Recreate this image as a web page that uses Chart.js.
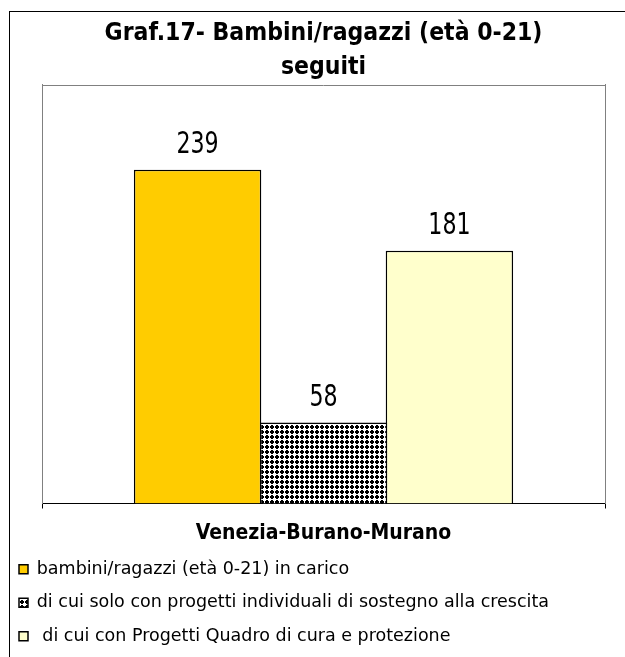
<!DOCTYPE html>
<html>
<head>
<meta charset="utf-8">
<script src="https://cdn.jsdelivr.net/npm/chart.js@4"></script>
<style>
  body { margin: 0; background: #fff; }
  canvas { display: block; }
</style>
</head>
<body>
<canvas id="grafico" width="625" height="657"></canvas>
<script>
const categorie = ['Venezia-Burano-Murano'];
const nomiSerie = [
    'bambini/ragazzi (età 0-21) in carico',
    'di cui solo con progetti individuali di sostegno alla crescita',
    ' di cui con Progetti Quadro di cura e protezione'
];
const inCarico = [239];
const soloIndividuali = [58];
const progettiQuadro = [181];
const titolo = ['Graf.17- Bambini/ragazzi (età 0-21)', 'seguiti'];

// trama a puntini per la seconda serie
function creaTrama() {
    const t = document.createElement('canvas');
    t.width = 5;
    t.height = 5;
    const c = t.getContext('2d');
    c.fillStyle = '#fff';
    c.fillRect(0, 0, 5, 5);
    c.fillStyle = '#000';
    c.fillRect(1, 0, 2, 4);
    c.fillRect(0, 1, 4, 2);
    return c.createPattern(t, 'repeat');
}

const ctx = document.getElementById('grafico');
const trama = creaTrama();

const cornice = {
    id: 'cornice',
    beforeDraw(chart) {
        const c = chart.ctx;
        const a = chart.chartArea;
        c.save();
        c.strokeStyle = '#000';
        c.lineWidth = 1;
        c.strokeRect(9.5, 11.5, 1000, 1000);
        c.strokeStyle = '#808080';
        c.beginPath();
        c.moveTo(a.left, Math.round(a.top) + 0.5);
        c.lineTo(a.right, Math.round(a.top) + 0.5);
        c.stroke();
        c.restore();
    }
};

// valori sopra le barre, testo stretto come nell'originale
const etichette = {
    id: 'etichette',
    afterDatasetsDraw(chart) {
        const c = chart.ctx;
        c.save();
        c.font = "30px 'DejaVu Sans Condensed', 'DejaVu Sans'";
        c.fillStyle = '#000';
        c.textAlign = 'center';
        c.textBaseline = 'alphabetic';
        chart.data.datasets.forEach(function (ds, i) {
            const bar = chart.getDatasetMeta(i).data[0];
            c.save();
            c.translate(bar.x, bar.y - 17);
            c.scale(0.82, 1);
            c.fillText(String(ds.data[0]), 0, 0);
            c.restore();
        });
        c.restore();
    }
};

const grafico = new Chart(ctx, {
    type: 'bar',
    data: {
        labels: categorie,
        datasets: [{
            label: nomiSerie[0],
            data: inCarico,
            backgroundColor: '#FFCC00',
            borderColor: '#000',
            borderWidth: 1.5
        }, {
            label: nomiSerie[1],
            data: soloIndividuali,
            backgroundColor: trama,
            borderColor: '#000',
            borderWidth: 1.5
        }, {
            label: nomiSerie[2],
            data: progettiQuadro,
            backgroundColor: '#FFFFCC',
            borderColor: '#000',
            borderWidth: 1.5
        }]
    },
    options: {
        responsive: false,
        animation: false,
        categoryPercentage: 0.671,
        barPercentage: 1.012,
        layout: { padding: { left: 3, right: 0, top: 0, bottom: 2 } },
        plugins: {
            tooltip: { enabled: false },
            title: {
                display: true,
                fullSize: false,
                text: titolo,
                color: '#000',
                font: { family: "'DejaVu Sans Condensed', 'DejaVu Sans'", size: 24.5, weight: 'bold', lineHeight: 1.4 },
                padding: { top: 16, bottom: 0 }
            },
            legend: {
                position: 'bottom',
                align: 'start',
                labels: {
                    color: '#000',
                    boxWidth: 9,
                    boxHeight: 9,
                    padding: 16,
                    font: { family: "'DejaVu Sans'", size: 17.5 }
                }
            }
        },
        scales: {
            x: {
                grid: { display: true, drawOnChartArea: false, drawTicks: true, tickLength: 5, color: '#000', offset: true },
                border: { color: '#000', width: 1 },
                ticks: {
                    color: '#000',
                    padding: 12,
                    font: { family: "'DejaVu Sans Condensed', 'DejaVu Sans'", size: 21, weight: 'bold' }
                },
                afterFit(s) { s.height = 41; }
            },
            y: {
                position: 'left',
                min: 0,
                max: 300,
                ticks: { display: false },
                grid: { display: false },
                border: { color: '#808080', width: 1 },
                afterFit(s) { s.width = 39; }
            },
            y2: {
                position: 'right',
                display: true,
                min: 0,
                max: 300,
                ticks: { display: false },
                grid: { display: false },
                border: { color: '#808080', width: 1 },
                afterFit(s) { s.width = 20; }
            }
        }
    },
    plugins: [cornice, etichette]
});
</script>
</body>
</html>
